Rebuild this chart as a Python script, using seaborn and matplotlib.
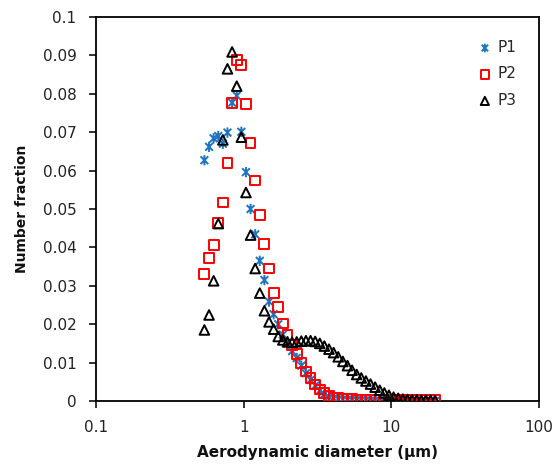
import numpy as np
import pandas as pd
import matplotlib
matplotlib.use("Agg")
import matplotlib.pyplot as plt
from matplotlib.path import Path
from matplotlib.ticker import FixedLocator, FixedFormatter, NullLocator
import seaborn as sns

# APS channel midpoints (um) and number fractions
diameter = [0.542, 0.583, 0.626, 0.673, 0.723, 0.777, 0.835, 0.898, 0.965, 1.037,
            1.114, 1.197, 1.286, 1.382, 1.486, 1.596, 1.715, 1.843, 1.981, 2.129,
            2.288, 2.458, 2.642, 2.839, 3.051, 3.278, 3.523, 3.786, 4.068, 4.371,
            4.698, 5.048, 5.425, 5.829, 6.264, 6.732, 7.234, 7.774, 8.354, 8.977,
            9.647, 10.37, 11.14, 11.97, 12.86, 13.82, 14.86, 15.96, 17.15, 18.43, 19.81]

p1 = [0.0627, 0.0662, 0.0684, 0.0690, 0.0670, 0.0699, 0.0777, 0.0795, 0.0701, 0.0596,
      0.0500, 0.0434, 0.0365, 0.0315, 0.0259, 0.0226, 0.0200, 0.0173, 0.0150, 0.0130,
      0.0112, 0.0092, 0.0072, 0.0055, 0.0040, 0.0027, 0.0018, 0.0011, 0.0007, 0.0005,
      0.0004, 0.0003, 0.0003, 0.0002, 0.0002, 0.0002, 0.0001, 0.0001, 0.0001, 0.0001,
      0.0001, 0.0001, 0.0001, 0.0001, 0.0, 0.0, 0.0, 0.0, 0.0, 0.0, 0.0]

p2 = [0.0331, 0.0373, 0.0406, 0.0464, 0.0517, 0.0619, 0.0776, 0.0888, 0.0875, 0.0773,
      0.0671, 0.0574, 0.0484, 0.0409, 0.0345, 0.0281, 0.0244, 0.0202, 0.0172, 0.0146,
      0.0123, 0.0098, 0.0077, 0.0059, 0.0043, 0.0030, 0.0020, 0.0013, 0.0009, 0.0007,
      0.0006, 0.0005, 0.0005, 0.0004, 0.0004, 0.0004, 0.0003, 0.0003, 0.0003, 0.0003,
      0.0003, 0.0002, 0.0002, 0.0002, 0.0002, 0.0002, 0.0002, 0.0002, 0.0002, 0.0002, 0.0002]

p3 = [0.0185, 0.0224, 0.0313, 0.0462, 0.0680, 0.0865, 0.0909, 0.0820, 0.0687, 0.0543,
      0.0432, 0.0345, 0.0281, 0.0235, 0.0206, 0.0187, 0.0168, 0.0159, 0.0154, 0.0153,
      0.0154, 0.0156, 0.0157, 0.0157, 0.0155, 0.0150, 0.0143, 0.0135, 0.0126, 0.0115,
      0.0103, 0.0092, 0.0080, 0.0069, 0.0060, 0.0052, 0.0044, 0.0036, 0.0028, 0.0021,
      0.0015, 0.0010, 0.0007, 0.0005, 0.0004, 0.0003, 0.0003, 0.0002, 0.0002, 0.0002, 0.0001]

x_ticks = [0.1, 1, 10, 100]
x_tick_labels = ["0.1", "1", "10", "100"]
y_ticks = [0, 0.01, 0.02, 0.03, 0.04, 0.05, 0.06, 0.07, 0.08, 0.09, 0.1]
y_tick_labels = ["0", "0.01", "0.02", "0.03", "0.04", "0.05", "0.06", "0.07", "0.08", "0.09", "0.1"]

sns.set_theme(style="ticks")
plt.rcParams['font.family'] = ['DejaVu Sans']

# Excel-style star: an x with a vertical bar through it
star = Path([(0, -1), (0, 1), (-0.75, -0.75), (0.75, 0.75), (-0.75, 0.75), (0.75, -0.75)],
            [Path.MOVETO, Path.LINETO, Path.MOVETO, Path.LINETO, Path.MOVETO, Path.LINETO])

df = pd.DataFrame({'diameter': diameter, 'P1': p1, 'P2': p2, 'P3': p3})

fig = plt.figure(figsize=(5.55, 4.66), dpi=100)
ax = fig.add_axes([0.173, 0.1395, 0.798, 0.824])

series = [
    ('P1', star, '#1F74C0', 55),
    ('P2', 's', '#FF0000', 50),
    ('P3', '^', '#000000', 48),
]
for name, marker, color, size in series:
    sns.scatterplot(data=df, x='diameter', y=name, ax=ax, marker=marker, s=size,
                    color=color, facecolor='none', edgecolor=color,
                    linewidth=1.4, label=name, zorder=3)

ax.set_xscale('log')
ax.set_xlim(0.1, 100)
ax.set_ylim(0, 0.1)
ax.xaxis.set_major_locator(FixedLocator(x_ticks))
ax.xaxis.set_major_formatter(FixedFormatter(x_tick_labels))
ax.xaxis.set_minor_locator(NullLocator())
ax.yaxis.set_major_locator(FixedLocator(y_ticks))
ax.yaxis.set_major_formatter(FixedFormatter(y_tick_labels))

for sp in ax.spines.values():
    sp.set_linewidth(1.3)
    sp.set_color('black')
ax.tick_params(axis='both', direction='out', length=5, width=1.3, labelsize=11,
               colors='#222222')
ax.tick_params(axis='y', pad=9)
ax.tick_params(axis='x', pad=9)

ax.set_xlabel('Aerodynamic diameter (µm)', fontsize=11, fontweight='bold', labelpad=7,
              color='#111111')
ax.set_ylabel('Number fraction', fontsize=10, fontweight='bold', labelpad=10,
              color='#111111')

ax.legend(loc='upper left', bbox_to_anchor=(0.84, 0.96), frameon=False, fontsize=11,
          handletextpad=0.2, labelspacing=0.75, borderpad=0, handlelength=1.2,
          markerscale=0.85)

fig.savefig('out.png', dpi=100)
